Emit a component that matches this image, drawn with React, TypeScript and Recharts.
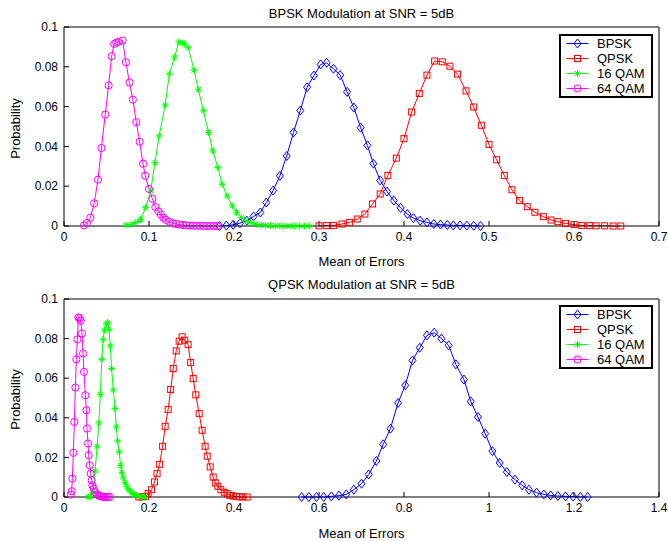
import { LineChart, Line, XAxis, YAxis, Legend } from 'recharts'

type Pt = [number, number]

const seriesNames = ['BPSK', 'QPSK', '16 QAM', '64 QAM']
const seriesColors = ['#0000ff', '#ff0000', '#00ff00', '#ff00ff']
const seriesMarkers = ['diamond', 'square', 'star', 'circle']

const yTicks = [0, 0.02, 0.04, 0.06, 0.08, 0.1]
const bpskXTicks = [0, 0.1, 0.2, 0.3, 0.4, 0.5, 0.6, 0.7]
const qpskXTicks = [0, 0.2, 0.4, 0.6, 0.8, 1, 1.2, 1.4]

// upper panel: BPSK modulation
const bpskPanelBpsk: Pt[] = [
  [0.183, 0], [0.191, 0.0002], [0.199, 0.0006], [0.207, 0.0014], [0.215, 0.0027],
  [0.223, 0.0048], [0.231, 0.0068], [0.238, 0.0118], [0.246, 0.0178], [0.254, 0.0252],
  [0.262, 0.0352], [0.27, 0.047], [0.278, 0.058], [0.286, 0.0697], [0.294, 0.0756],
  [0.302, 0.0812], [0.309, 0.082], [0.317, 0.079], [0.325, 0.0758], [0.333, 0.0674],
  [0.341, 0.0595], [0.349, 0.0494], [0.357, 0.0405], [0.364, 0.0313], [0.372, 0.0229],
  [0.38, 0.0173], [0.388, 0.0128], [0.396, 0.0091], [0.404, 0.006], [0.411, 0.004],
  [0.419, 0.0027], [0.427, 0.0018], [0.435, 0.001], [0.443, 0.0007], [0.451, 0.0005],
  [0.458, 0.0003], [0.466, 0.0003], [0.474, 0.0002], [0.482, 0.0001], [0.49, 0],
]
const bpskPanelQpsk: Pt[] = [
  [0.3, 0.0001], [0.309, 0.0002], [0.317, 0.0003], [0.327, 0.001], [0.336, 0.0018],
  [0.345, 0.0035], [0.354, 0.006], [0.363, 0.0111], [0.372, 0.0161], [0.381, 0.0254],
  [0.391, 0.0341], [0.4, 0.0439], [0.409, 0.0573], [0.418, 0.0666], [0.427, 0.0758],
  [0.436, 0.0829], [0.445, 0.0825], [0.454, 0.0803], [0.463, 0.0763], [0.473, 0.0679],
  [0.482, 0.0598], [0.491, 0.0506], [0.5, 0.041], [0.509, 0.0333], [0.518, 0.0254],
  [0.527, 0.0182], [0.536, 0.0128], [0.545, 0.0097], [0.554, 0.0069], [0.564, 0.0047],
  [0.573, 0.003], [0.581, 0.0022], [0.59, 0.0013], [0.6, 0.0007], [0.609, 0.0003],
  [0.618, 0.0002], [0.626, 0.0001], [0.636, 0.0001], [0.646, 0], [0.655, 0],
]
const bpskPanel16qam: Pt[] = [
  [0.073, 0.0005], [0.079, 0.0008], [0.084, 0.0017], [0.09, 0.0032], [0.096, 0.0092],
  [0.102, 0.0176], [0.107, 0.0319], [0.112, 0.0453], [0.119, 0.0608], [0.124, 0.0764],
  [0.13, 0.0848], [0.135, 0.0924], [0.139, 0.0919], [0.142, 0.0915], [0.146, 0.0898],
  [0.153, 0.0784], [0.158, 0.0685], [0.164, 0.0579], [0.17, 0.047], [0.175, 0.0378],
  [0.181, 0.0294], [0.186, 0.021], [0.192, 0.0151], [0.198, 0.0101], [0.203, 0.0067],
  [0.209, 0.0042], [0.214, 0.0025], [0.22, 0.0017], [0.226, 0.0008], [0.232, 0.0005],
  [0.237, 0.0003], [0.243, 0.0002], [0.249, 0.0001], [0.254, 0.0001], [0.26, 0],
  [0.266, 0], [0.271, 0], [0.277, 0], [0.283, 0], [0.289, 0],
]
const bpskPanel64qam: Pt[] = [
  [0.0235, 0.0003], [0.027, 0.0015], [0.031, 0.0042], [0.0355, 0.0114], [0.04, 0.0233],
  [0.044, 0.0392], [0.0485, 0.056], [0.0525, 0.0707], [0.056, 0.0853], [0.059, 0.0915],
  [0.0615, 0.0921], [0.064, 0.0926], [0.069, 0.0932], [0.0728, 0.0823], [0.077, 0.0721],
  [0.081, 0.0635], [0.085, 0.0522], [0.089, 0.0423], [0.093, 0.0313], [0.0955, 0.0253],
  [0.1, 0.0186], [0.104, 0.0136], [0.1075, 0.0095], [0.111, 0.0074], [0.114, 0.0058],
  [0.117, 0.0041], [0.12, 0.0031], [0.124, 0.0021], [0.128, 0.0014], [0.132, 0.001],
  [0.136, 0.0007], [0.14, 0.0005], [0.144, 0.0003], [0.148, 0.0002], [0.152, 0.0002],
  [0.156, 0.0001], [0.16, 0.0001], [0.164, 0], [0.168, 0], [0.172, 0], [0.176, 0], [0.18, 0],
]

// lower panel: QPSK modulation
const qpskPanelBpsk: Pt[] = [
  [0.559, 0], [0.576, 0], [0.594, 0], [0.611, 0], [0.629, 0.0003],
  [0.647, 0.0007], [0.664, 0.0013], [0.682, 0.0037], [0.7, 0.0067], [0.717, 0.0114],
  [0.735, 0.0182], [0.751, 0.0266], [0.768, 0.0345], [0.786, 0.0475], [0.803, 0.0564],
  [0.82, 0.069], [0.837, 0.0754], [0.854, 0.0816], [0.871, 0.083], [0.888, 0.08],
  [0.905, 0.0766], [0.922, 0.067], [0.941, 0.0593], [0.957, 0.0483], [0.974, 0.0404],
  [0.991, 0.032], [1.008, 0.0232], [1.025, 0.0172], [1.042, 0.0126], [1.061, 0.0088],
  [1.078, 0.0059], [1.094, 0.0037], [1.112, 0.0022], [1.129, 0.0013], [1.145, 0.0008],
  [1.162, 0.0005], [1.18, 0.0003], [1.198, 0.0002], [1.215, 0], [1.232, 0],
]
const qpskPanelQpsk: Pt[] = [
  [0.176, 0], [0.184, 0.0001], [0.192, 0.0003], [0.198, 0.0017], [0.206, 0.0037],
  [0.213, 0.0076], [0.219, 0.0118], [0.225, 0.0165], [0.232, 0.0256], [0.238, 0.0357],
  [0.245, 0.0442], [0.251, 0.0543], [0.257, 0.0649], [0.264, 0.0738], [0.271, 0.0787],
  [0.278, 0.0809], [0.284, 0.0792], [0.292, 0.077], [0.298, 0.0679], [0.304, 0.0598],
  [0.31, 0.0516], [0.318, 0.0421], [0.325, 0.0337], [0.332, 0.0256], [0.337, 0.0206],
  [0.344, 0.0152], [0.351, 0.0101], [0.356, 0.0071], [0.362, 0.0054], [0.369, 0.0037],
  [0.377, 0.0024], [0.384, 0.0017], [0.39, 0.0008], [0.398, 0.0005], [0.406, 0.0002],
  [0.413, 0.0001], [0.421, 0], [0.431, 0],
]
const qpskPanel16qam: Pt[] = [
  [0.0565, 0], [0.062, 0.0003], [0.068, 0.0025], [0.073, 0.0131], [0.078, 0.0256],
  [0.082, 0.0374], [0.0855, 0.0519], [0.089, 0.0695], [0.092, 0.0796], [0.095, 0.0843],
  [0.0995, 0.0873], [0.103, 0.0882], [0.106, 0.0846], [0.109, 0.0762], [0.112, 0.0649],
  [0.116, 0.054], [0.12, 0.0447], [0.123, 0.0354], [0.126, 0.0283], [0.13, 0.0228],
  [0.133, 0.016], [0.136, 0.0125], [0.139, 0.01], [0.143, 0.0075], [0.147, 0.0055],
  [0.151, 0.004], [0.156, 0.0029], [0.161, 0.0019], [0.166, 0.0012], [0.172, 0.0007],
  [0.178, 0.0004], [0.184, 0.0002], [0.19, 0],
]
const qpskPanel64qam: Pt[] = [
  [0.0158, 0.0012], [0.018, 0.0029], [0.0197, 0.0093], [0.022, 0.0223], [0.0244, 0.0379],
  [0.0268, 0.0553], [0.029, 0.0695], [0.0315, 0.0796], [0.0338, 0.0907], [0.037, 0.0902],
  [0.0393, 0.089], [0.0424, 0.0826], [0.0448, 0.0725], [0.047, 0.0632], [0.0503, 0.0514],
  [0.0527, 0.0438], [0.0542, 0.0346], [0.0565, 0.027], [0.0581, 0.0211], [0.0605, 0.016],
  [0.0628, 0.0118], [0.0652, 0.0084], [0.0668, 0.0059], [0.07, 0.0042], [0.073, 0.0025],
  [0.0777, 0.0013], [0.081, 0.0008], [0.084, 0.0005], [0.088, 0.0003], [0.092, 0.0001],
  [0.096, 0], [0.1, 0], [0.104, 0], [0.108, 0],
]

const FONT = '"Liberation Sans", Arial, Helvetica, sans-serif'

function Marker({ shape, cx, cy, color }: { shape: string; cx: number; cy: number; color: string }) {
  if (shape === 'diamond')
    return (
      <polygon
        points={`${cx},${cy - 4.5} ${cx + 3.5},${cy} ${cx},${cy + 4.5} ${cx - 3.5},${cy}`}
        fill="none"
        stroke={color}
      />
    )
  if (shape === 'square')
    return <rect x={cx - 3} y={cy - 3} width={6} height={6} fill="none" stroke={color} />
  if (shape === 'star')
    return (
      <path
        d={`M${cx - 3.5},${cy}h7M${cx},${cy - 3.5}v7M${cx - 2.5},${cy - 2.5}l5,5M${cx - 2.5},${cy + 2.5}l5,-5`}
        stroke={color}
        fill="none"
      />
    )
  return <circle cx={cx} cy={cy} r={3.6} fill="none" stroke={color} />
}

const renderLegend = () => (
  <div style={{ border: '2px solid #000', background: '#fff', width: 94, boxSizing: 'border-box', fontFamily: FONT }}>
    {seriesNames.map((name, i) => (
      <div key={name} style={{ display: 'flex', alignItems: 'center', height: 15 }}>
        <svg width={36} height={15} style={{ display: 'block' }}>
          <line x1={5.5} x2={27.5} y1={7.5} y2={7.5} stroke={seriesColors[i]} />
          <Marker shape={seriesMarkers[i]} cx={16.5} cy={7.5} color={seriesColors[i]} />
        </svg>
        <span style={{ fontSize: 13, lineHeight: '15px', color: '#000' }}>{name}</span>
      </div>
    ))}
  </div>
)

interface PanelProps {
  top: number
  height: number
  plotTop: number
  title: string
  titleTop: number
  xLabelTop: number
  yLabelMid: number
  legendTop: number
  xTicks: number[]
  series: Pt[][]
}

function Panel({ top, height, plotTop, title, titleTop, xLabelTop, yLabelMid, legendTop, xTicks, series }: PanelProps) {
  const xMax = xTicks[xTicks.length - 1]
  const tickStyle = { fill: '#000', fontSize: 12, fontFamily: FONT }
  return (
    <div style={{ position: 'absolute', left: 0, top, width: 668, height, fontFamily: FONT, color: '#000' }}>
      <div style={{ position: 'absolute', left: 64, width: 595, top: titleTop, textAlign: 'center', fontSize: 13, lineHeight: '15px' }}>
        {title}
      </div>
      <LineChart width={668} height={height} margin={{ top: plotTop - 1, right: 8, bottom: 14, left: 24 }}>
        <XAxis
          xAxisId="b"
          type="number"
          dataKey="x"
          domain={[0, xMax]}
          ticks={xTicks}
          interval={0}
          height={30}
          tickSize={-5}
          tickMargin={11}
          tick={tickStyle}
          stroke="#000"
        />
        <XAxis
          xAxisId="t"
          orientation="top"
          type="number"
          dataKey="x"
          domain={[0, xMax]}
          ticks={xTicks}
          interval={0}
          height={1}
          tickSize={-5}
          tick={false}
          stroke="#000"
        />
        <YAxis
          yAxisId="l"
          type="number"
          domain={[0, 0.1]}
          ticks={yTicks}
          interval={0}
          width={40}
          tickSize={-5}
          tickMargin={11}
          tick={tickStyle}
          stroke="#000"
        />
        <YAxis
          yAxisId="r"
          orientation="right"
          type="number"
          domain={[0, 0.1]}
          ticks={yTicks}
          interval={0}
          width={1}
          tickSize={-5}
          tick={false}
          stroke="#000"
        />
        <Legend layout="vertical" align="center" verticalAlign="middle" content={renderLegend} wrapperStyle={{ left: 559, top: legendTop, width: 94 }} />
        {series.map((pts, i) => (
          <Line
            key={seriesNames[i]}
            xAxisId="b"
            yAxisId="l"
            name={seriesNames[i]}
            data={pts.map(([x, y]) => ({ x, y }))}
            dataKey="y"
            stroke={seriesColors[i]}
            strokeWidth={1}
            isAnimationActive={false}
            dot={(p: any) => (
              <Marker key={`${seriesNames[i]}-${p.index}`} shape={seriesMarkers[i]} cx={p.cx} cy={p.cy} color={seriesColors[i]} />
            )}
            activeDot={false}
          />
        ))}
      </LineChart>
      <div style={{ position: 'absolute', left: 64, width: 595, top: xLabelTop, textAlign: 'center', fontSize: 13, lineHeight: '15px' }}>
        Mean of Errors
      </div>
      <div
        style={{
          position: 'absolute',
          left: 15 - 50,
          top: yLabelMid - 7.5,
          width: 100,
          height: 15,
          textAlign: 'center',
          fontSize: 13,
          lineHeight: '15px',
          transform: 'rotate(-90deg)',
        }}
      >
        Probability
      </div>
    </div>
  )
}

export default function App() {
  return (
    <div style={{ position: 'absolute', left: 0, top: 0, width: 668, height: 541, background: '#fff' }}>
      <Panel
        top={0}
        height={270}
        plotTop={27}
        title="BPSK Modulation at SNR = 5dB"
        titleTop={6}
        xLabelTop={254}
        yLabelMid={128.5}
        legendTop={34}
        xTicks={bpskXTicks}
        series={[bpskPanelBpsk, bpskPanelQpsk, bpskPanel16qam, bpskPanel64qam]}
      />
      <Panel
        top={270}
        height={271}
        plotTop={29}
        title="QPSK Modulation at SNR = 5dB"
        titleTop={7}
        xLabelTop={256}
        yLabelMid={129}
        legendTop={35}
        xTicks={qpskXTicks}
        series={[qpskPanelBpsk, qpskPanelQpsk, qpskPanel16qam, qpskPanel64qam]}
      />
    </div>
  )
}
